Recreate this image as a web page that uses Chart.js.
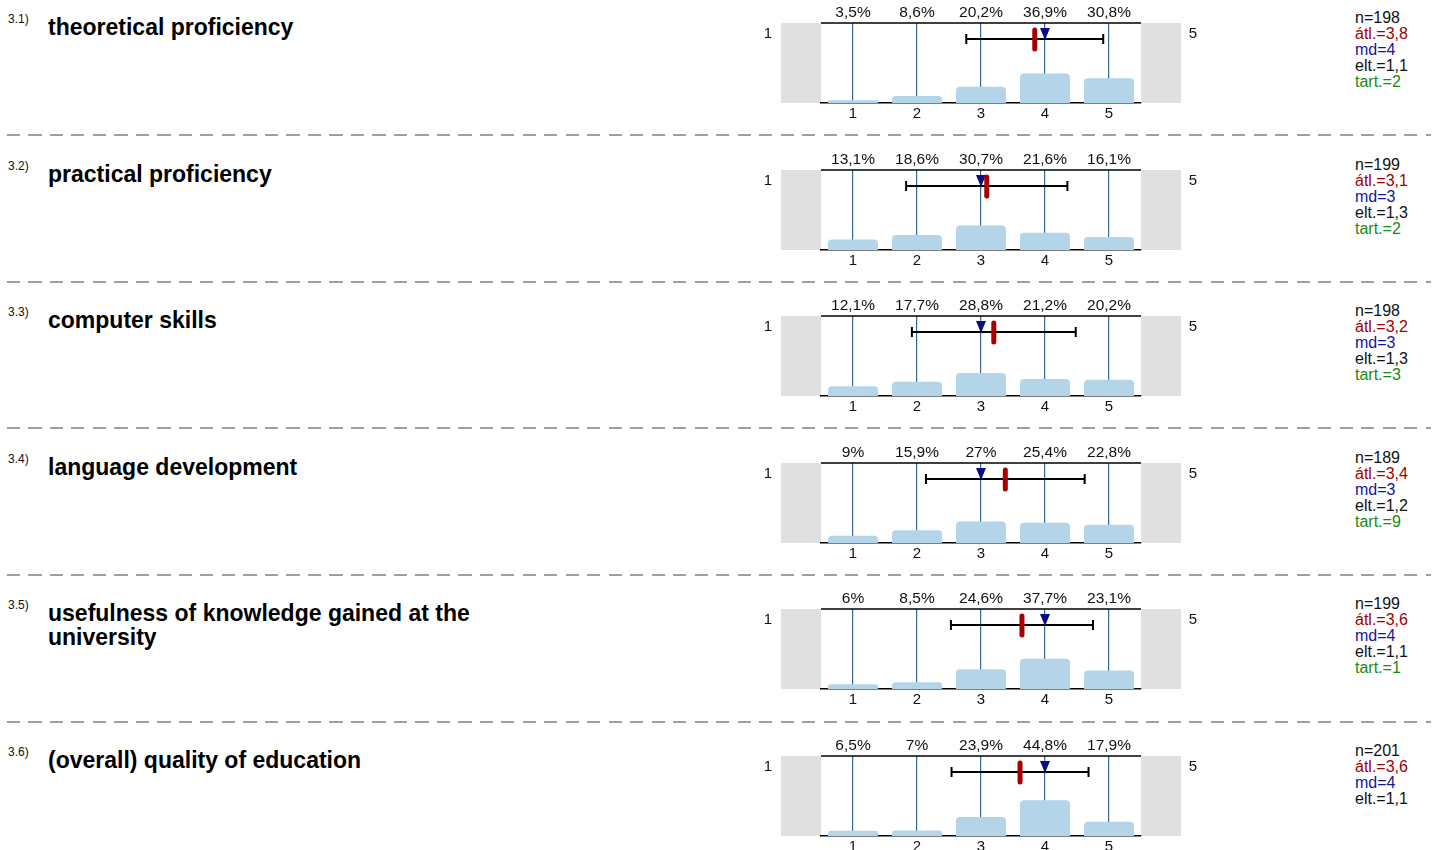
<!DOCTYPE html>
<html>
<head>
<meta charset="utf-8">
<script src="https://cdn.jsdelivr.net/npm/chart.js@4"></script>
<style>
  body { margin: 0; background: #fff; font-family: "Liberation Sans", Arial, sans-serif; }
  #page { position: relative; width: 1434px; height: 850px; overflow: hidden; }
  .num { position: absolute; left: 8px; font-size: 12px; color: #111; }
  .title { position: absolute; left: 48px; width: 470px; font-size: 23px; font-weight: bold; line-height: 24px; color: #000; }
  .stats { position: absolute; left: 1355px; font-size: 16px; line-height: 16px; }
  .sep { position: absolute; left: 7px; width: 1424px; height: 2px;
         background: repeating-linear-gradient(to right, #a0a0a0 0 13px, transparent 13px 21.5px); }
  canvas { position: absolute; left: 760px; }
</style>
</head>
<body>
<div id="page"></div>
<script>
// Dados das perguntas
var questionNums = ['3.1)', '3.2)', '3.3)', '3.4)', '3.5)', '3.6)'];
var titles = [
  'theoretical proficiency',
  'practical proficiency',
  'computer skills',
  'language development',
  'usefulness of knowledge gained at the university',
  '(overall) quality of education'
];
var categories = [1, 2, 3, 4, 5];
var percents = [
  [3.5, 8.6, 20.2, 36.9, 30.8],
  [13.1, 18.6, 30.7, 21.6, 16.1],
  [12.1, 17.7, 28.8, 21.2, 20.2],
  [9, 15.9, 27, 25.4, 22.8],
  [6, 8.5, 24.6, 37.7, 23.1],
  [6.5, 7, 23.9, 44.8, 17.9]
];
var counts = [198, 199, 198, 189, 199, 201];
var means = [3.84, 3.09, 3.2, 3.38, 3.64, 3.61];
var medians = [4, 3, 3, 3, 4, 4];
var stdDevs = [1.07, 1.26, 1.28, 1.24, 1.11, 1.07];
var abstentions = [2, 2, 3, 9, 1, null];
var scaleEnds = ['1', '5'];

var rowStep = 146.6;
var fontFamily = '"Liberation Sans", Arial, sans-serif';
var page = document.getElementById('page');

function fmt(v, d) {
  var s = d === undefined ? String(v) : v.toFixed(d);
  return s.replace('.', ',');
}

// Plugin que desenha os painéis cinza, rótulos e a barra de média/desvio
var overlay = {
  id: 'overlay',
  beforeDraw: function (chart) {
    var ctx = chart.ctx, a = chart.chartArea;
    ctx.save();
    ctx.fillStyle = '#e0e0e0';
    ctx.fillRect(a.left - 40, a.top, 40, a.bottom - a.top);
    ctx.fillRect(a.right, a.top, 40, a.bottom - a.top);
    ctx.restore();
  },
  afterDraw: function (chart, args, opts) {
    var i = opts.row;
    var ctx = chart.ctx, a = chart.chartArea, x = chart.scales.x;
    ctx.save();

    // linha superior
    ctx.strokeStyle = '#000';
    ctx.lineWidth = 1.5;
    ctx.beginPath();
    ctx.moveTo(a.left, a.top);
    ctx.lineTo(a.right, a.top);
    ctx.stroke();

    // percentuais
    ctx.fillStyle = '#111';
    ctx.font = '15.5px ' + fontFamily;
    ctx.textAlign = 'center';
    ctx.textBaseline = 'middle';
    for (var k = 0; k < categories.length; k++) {
      ctx.fillText(fmt(percents[i][k]) + '%', x.getPixelForValue(categories[k]), a.top - 10);
    }
    ctx.font = '15px ' + fontFamily;
    ctx.fillText(scaleEnds[0], a.left - 53, a.top + 11);
    ctx.fillText(scaleEnds[1], a.right + 52, a.top + 11);

    // barra de desvio padrão
    var yBar = a.top + 16;
    var x1 = x.getPixelForValue(means[i] - stdDevs[i]);
    var x2 = x.getPixelForValue(means[i] + stdDevs[i]);
    ctx.strokeStyle = '#000';
    ctx.lineWidth = 2;
    ctx.beginPath();
    ctx.moveTo(x1, yBar); ctx.lineTo(x2, yBar);
    ctx.moveTo(x1, yBar - 5); ctx.lineTo(x1, yBar + 5);
    ctx.moveTo(x2, yBar - 5); ctx.lineTo(x2, yBar + 5);
    ctx.stroke();

    // mediana (triângulo)
    var xm = x.getPixelForValue(medians[i]);
    ctx.fillStyle = '#0c0c85';
    ctx.beginPath();
    ctx.moveTo(xm - 5, a.top + 5);
    ctx.lineTo(xm + 5, a.top + 5);
    ctx.lineTo(xm, a.top + 17);
    ctx.closePath();
    ctx.fill();

    // média
    var xa = x.getPixelForValue(means[i]);
    ctx.strokeStyle = '#a80000';
    ctx.lineWidth = 5;
    ctx.lineCap = 'round';
    ctx.beginPath();
    ctx.moveTo(xa, a.top + 7);
    ctx.lineTo(xa, a.top + 26);
    ctx.stroke();

    ctx.restore();
  }
};

for (var i = 0; i < titles.length; i++) {
  var rowTop = i * rowStep;

  var num = document.createElement('div');
  num.className = 'num';
  num.style.top = (rowTop + 12) + 'px';
  num.textContent = questionNums[i];
  page.appendChild(num);

  var title = document.createElement('div');
  title.className = 'title';
  title.style.top = (rowTop + 15) + 'px';
  title.textContent = titles[i];
  page.appendChild(title);

  var stats = document.createElement('div');
  stats.className = 'stats';
  stats.style.top = (rowTop + 10) + 'px';
  var html = '<div style="color:#111">n=' + counts[i] + '</div>' +
    '<div style="color:#a00000">átl.=' + fmt(means[i], 1) + '</div>' +
    '<div style="color:#15159a">md=' + medians[i] + '</div>' +
    '<div style="color:#111">elt.=' + fmt(stdDevs[i], 1) + '</div>';
  if (abstentions[i] !== null) {
    html += '<div style="color:#168a16">tart.=' + abstentions[i] + '</div>';
  }
  stats.innerHTML = html;
  page.appendChild(stats);

  if (i > 0) {
    var sep = document.createElement('div');
    sep.className = 'sep';
    sep.style.top = (rowTop - 12.5) + 'px';
    page.appendChild(sep);
  }

  var canvas = document.createElement('canvas');
  canvas.width = 450;
  canvas.height = 125;
  canvas.style.width = '450px';
  canvas.style.height = '125px';
  canvas.style.top = rowTop + 'px';
  page.appendChild(canvas);

  var barData = percents[i].map(function (p, k) { return { x: categories[k], y: p }; });

  new Chart(canvas.getContext('2d'), {
    type: 'bar',
    data: {
      datasets: [{
        data: barData,
        backgroundColor: '#b4d4ea',
        borderWidth: 0,
        borderRadius: 4,
        borderSkipped: 'start',
        barPercentage: 0.78,
        categoryPercentage: 1
      }]
    },
    options: {
      responsive: false,
      animation: false,
      layout: { padding: { left: 61, right: 69, top: 23, bottom: 0 } },
      plugins: { legend: { display: false }, tooltip: { enabled: false }, overlay: { row: i } },
      scales: {
        x: {
          type: 'linear',
          min: 0.5,
          max: 5.5,
          offset: false,
          z: 1,
          afterBuildTicks: function (s) { s.ticks = categories.map(function (v) { return { value: v }; }); },
          afterFit: function (s) { s.height = 22; },
          grid: { color: '#336699', lineWidth: 1.2, drawTicks: false, offset: false },
          border: { color: '#000', width: 1.5 },
          ticks: { color: '#111', padding: 2, font: { size: 15, family: fontFamily } }
        },
        y: { display: false, min: 0, max: 100 }
      }
    },
    plugins: [overlay]
  });
}
</script>
</body>
</html>
